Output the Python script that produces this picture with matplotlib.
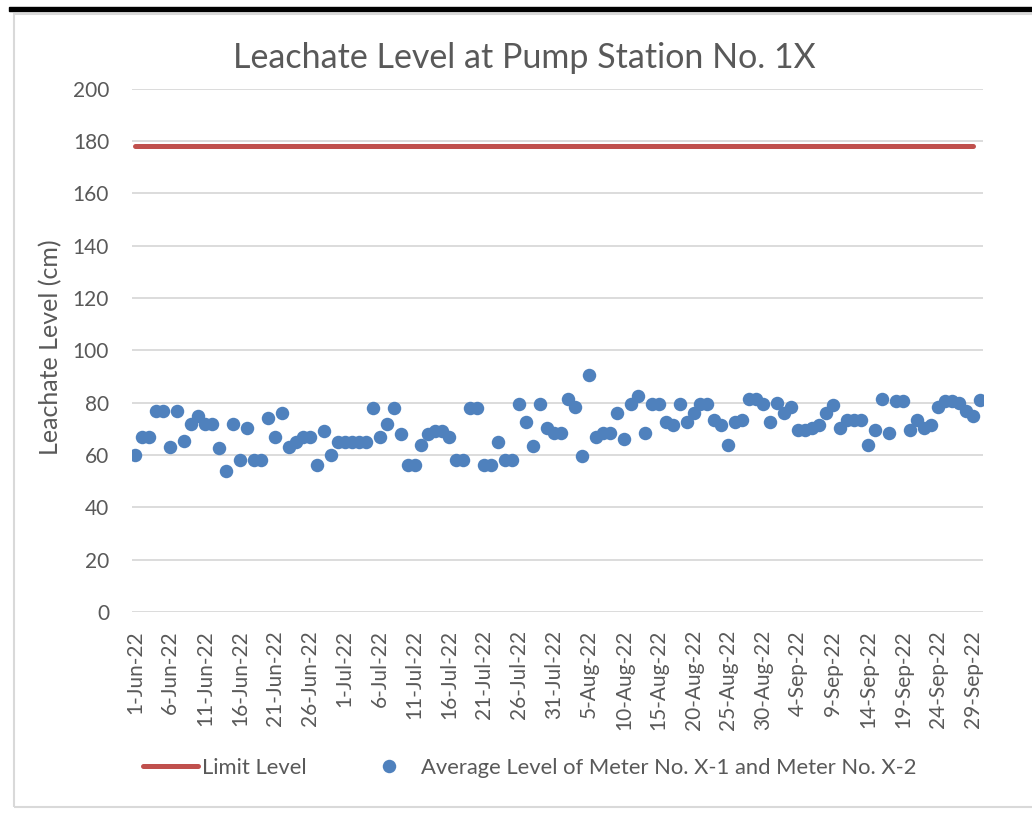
import pandas as pd
import matplotlib.pyplot as plt
import matplotlib.dates as mdates
from matplotlib.patches import Rectangle

plt.rcParams['font.family'] = ['Lato', 'DejaVu Sans']

# -----------------------------
# Data
# -----------------------------
jun_levels = [60, 67, 67, 77, 77, 63, 77, 65.5, 72, 75,
              72, 72, 62.5, 54, 72, 58, 70.5, 58, 58, 74,
              67, 76, 63, 65, 67, 67, 56, 69, 60, 65]
jul_levels = [65, 65, 65, 65, 78, 67, 72, 78, 68, 56,
              56, 64, 68, 69, 69, 67, 58, 58, 78, 78,
              56, 56, 65, 58, 58, 79.5, 72.5, 63.5, 79.5, 70.5,
              68.5]
aug_levels = [68.5, 81.5, 78.5, 59.5, 90.5, 67, 68.5, 68.5, 76, 66,
              79.5, 82.5, 68.5, 79.5, 79.5, 72.5, 71.5, 79.5, 72.5, 76,
              79.5, 79.5, 73.5, 71.5, 64, 72.5, 73.5, 81.5, 81.5, 79.5,
              72.5]
sep_levels = [80, 76, 78.5, 69.5, 69.5, 70.5, 71.5, 76, 79, 70.5,
              73.5, 73.5, 73.5, 64, 69.5, 81.5, 68.5, 80.5, 80.5, 69.5,
              73.5, 70.5, 71.5, 78.5, 80.5, 80.5, 80, 77, 75, 81]

avg_levels = jun_levels + jul_levels + aug_levels + sep_levels
dates = pd.date_range("2022-06-01", "2022-09-30", freq="D")

limit_dates = pd.date_range("2022-06-01", "2022-09-29", freq="D")
limit_level = [178] * len(limit_dates)

y_ticks = [0, 20, 40, 60, 80, 100, 120, 140, 160, 180, 200]

# -----------------------------
# Figure
# -----------------------------
W, H = 1032, 814
fig = plt.figure(figsize=(W / 100, H / 100), dpi=100)
ax = fig.add_axes([132 / W, 1 - 612 / H, (983 - 132) / W, (612 - 88.7) / H])

text_color = "#595959"
grid_color = "#D9D9D9"

ax.plot(limit_dates, limit_level, color="#C0504D", linewidth=3.6,
        solid_capstyle="round", label="Limit Level", zorder=3)
ax.plot(dates, avg_levels, linestyle="none", marker="o", markersize=9.7,
        markeredgewidth=0, color="#4F81BD",
        label="Average Level of Meter No. X-1 and Meter No. X-2", zorder=4)

ax.set_ylim(0, 200)
ax.set_yticks(y_ticks)
ax.set_xlim(dates[0] - pd.Timedelta(hours=12), dates[-1] + pd.Timedelta(hours=12))
ax.set_xticks(pd.date_range("2022-06-01", "2022-09-30", freq="5D"))
ax.xaxis.set_major_formatter(mdates.DateFormatter("%-d-%b-%y"))

ax.grid(axis="y", color=grid_color, linewidth=1.3)
ax.set_axisbelow(True)
for s in ax.spines.values():
    s.set_visible(False)
ax.tick_params(axis="both", length=0, colors=text_color)
ax.tick_params(axis="y", pad=16.5, labelsize=15)
ax.tick_params(axis="x", pad=13, labelsize=15, labelrotation=90)

fig.text(51 / W, 1 - 347 / H, "Leachate Level (cm)", rotation=90,
         ha="center", va="center", fontsize=18, color=text_color)
fig.text(524 / W, 1 - 58 / H, "Leachate Level at Pump Station No. 1X",
         ha="center", va="center", fontsize=24.5, color=text_color)

leg = fig.legend(loc="center", bbox_to_anchor=(529.5 / W, 1 - 768 / H), ncol=2,
                 frameon=False, fontsize=15.8, handlelength=2.5,
                 handletextpad=0.2, columnspacing=2.5, labelcolor=text_color)

# chart frame + black bar above it
fig.patches.append(Rectangle((13.5 / W, 1 - 806.5 / H), 1.2, (806.5 - 13.5) / H,
                             transform=fig.transFigure, fill=False,
                             edgecolor=grid_color, linewidth=1.5))
fig.patches.append(Rectangle((9 / W, 1 - 11 / H), 1.0, 4 / H,
                             transform=fig.transFigure, color="black"))

fig.savefig("out.png", dpi=100)
